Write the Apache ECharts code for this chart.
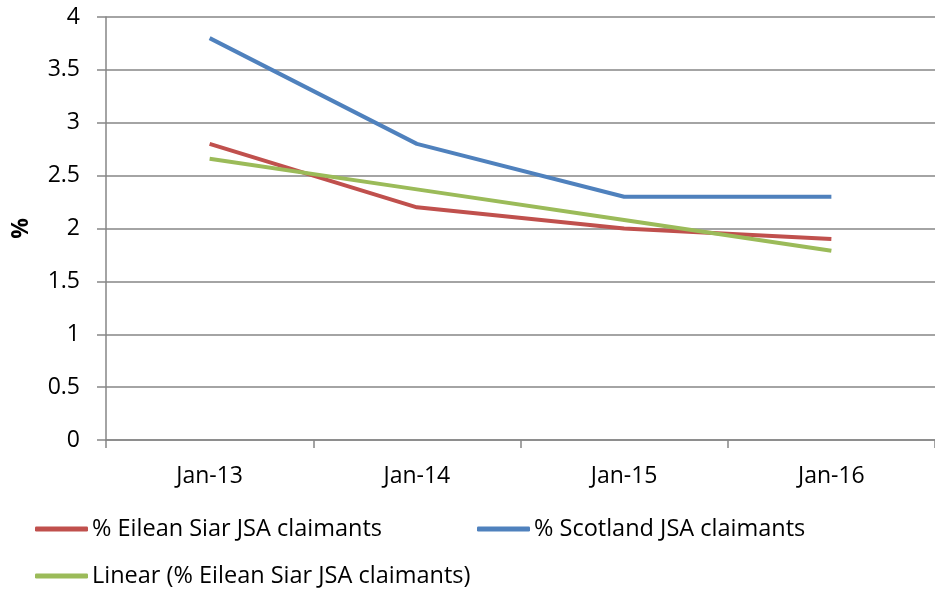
<!DOCTYPE html>
<html><head><meta charset="utf-8">
<script src="https://cdn.jsdelivr.net/npm/echarts@6/dist/echarts.min.js"></script>
<style>html,body{margin:0;padding:0;background:#fff}#c{width:935px;height:594px}</style>
</head><body><div id="c"></div>
<script>
const categories = ['Jan-13', 'Jan-14', 'Jan-15', 'Jan-16'];
const eileanSiar = [2.8, 2.2, 2.0, 1.9];
const scotland = [3.8, 2.8, 2.3, 2.3];
const linearTrend = [2.66, 2.37, 2.08, 1.79];
const yTicks = { min: 0, max: 4, interval: 0.5 };

const FONT = 'Open Sans';
const chart = echarts.init(document.getElementById('c'));
const legendBase = {
  orient: 'horizontal', itemWidth: 53, itemHeight: 5, itemGap: 4,
  icon: 'roundRect',
  textStyle: { fontFamily: FONT, fontSize: 23.5, color: '#000', padding: [0,0,0,-1] },
  padding: 0
};
chart.setOption({
  animation: false,
  textStyle: { fontFamily: FONT },
  grid: { left: 106, right: 0, top: 17, bottom: 154, containLabel: false, outerBoundsMode: 'none' },
  legend: [
    Object.assign({}, legendBase, { left: 35, top: 517, data: ['% Eilean Siar JSA claimants'] }),
    Object.assign({}, legendBase, { left: 477, top: 517, data: ['% Scotland JSA claimants'] }),
    Object.assign({}, legendBase, { left: 35, top: 564, data: ['Linear (% Eilean Siar JSA claimants)'] })
  ],
  xAxis: {
    type: 'category', data: categories, boundaryGap: true,
    axisLine: { lineStyle: { color: '#868686', width: 1.5 } },
    axisTick: { show: true, length: 8, interval: 0, lineStyle: { color: '#868686', width: 1.5 } },
    axisLabel: { color: '#000', fontSize: 23, fontFamily: FONT, margin: 25 }
  },
  yAxis: {
    type: 'value', min: yTicks.min, max: yTicks.max, interval: yTicks.interval,
    name: '%', nameLocation: 'middle', nameGap: 73, nameRotate: 90,
    nameTextStyle: { fontFamily: FONT, fontSize: 23, fontWeight: 'bold', color: '#000' },
    axisLine: { show: true, lineStyle: { color: '#868686', width: 1.5 } },
    axisTick: { show: true, length: 9, lineStyle: { color: '#868686', width: 1.5 } },
    axisLabel: { color: '#000', fontSize: 23, fontFamily: FONT, margin: 26 },
    splitLine: { show: true, lineStyle: { color: '#868686', width: 1.5 } }
  },
  series: [
    { name: '% Eilean Siar JSA claimants', type: 'line', data: eileanSiar, showSymbol: false, symbol: 'none',
      lineStyle: { color: '#C0504D', width: 4 }, itemStyle: { color: '#C0504D' }, z: 3 },
    { name: '% Scotland JSA claimants', type: 'line', data: scotland, showSymbol: false, symbol: 'none',
      lineStyle: { color: '#4F81BD', width: 4 }, itemStyle: { color: '#4F81BD' }, z: 3 },
    { name: 'Linear (% Eilean Siar JSA claimants)', type: 'line', data: linearTrend, showSymbol: false, symbol: 'none',
      lineStyle: { color: '#9BBB59', width: 4 }, itemStyle: { color: '#9BBB59' }, z: 4 }
  ]
});
</script></body></html>
